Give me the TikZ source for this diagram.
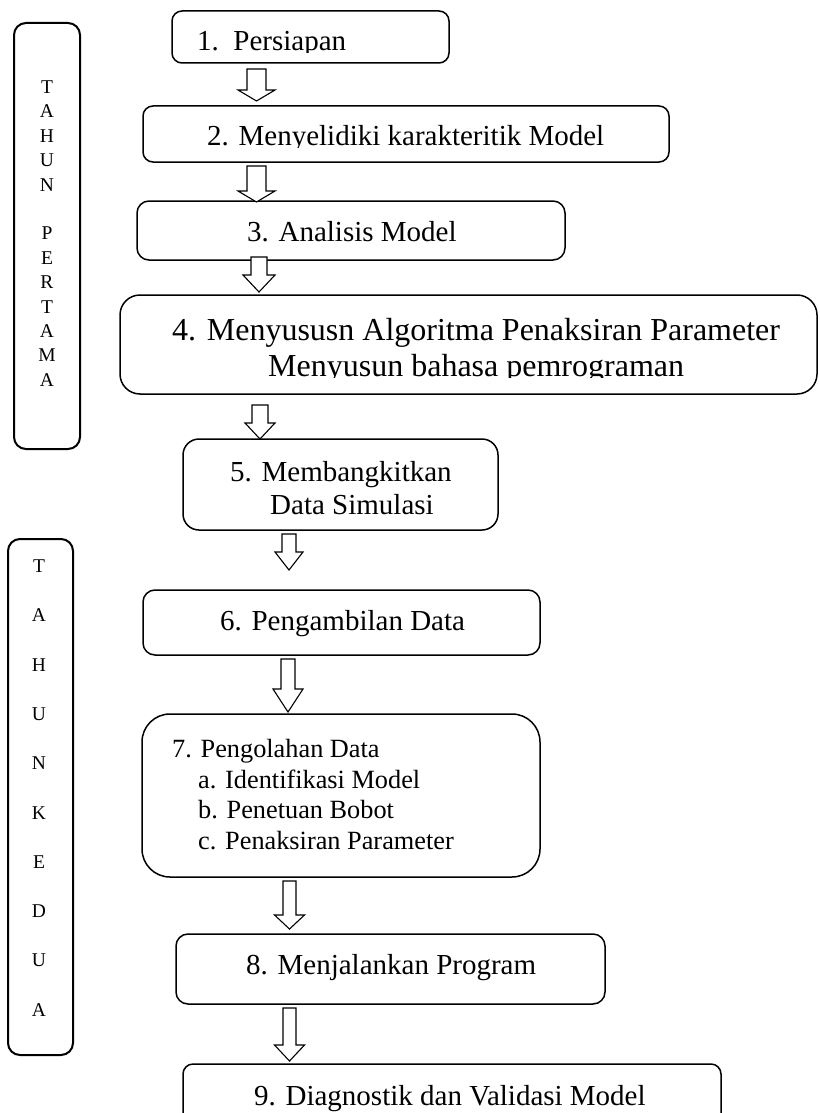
\documentclass[tikz,border=0pt]{standalone}
\usepackage{fontspec}
\setmainfont{Liberation Serif}
\newcommand\blockarrow[6]{%
  \draw[barrow] (#1-#4,#2) -- (#1+#4,#2) -- (#1+#4,#3-#6) -- (#1+#5,#3-#6)
    -- (#1,#3) -- (#1-#5,#3-#6) -- (#1-#4,#3-#6) -- cycle;}
\tikzset{
  box/.style={draw=black, line width=1.5pt, rectangle, inner sep=0pt, outer sep=0pt, fill=white},
  sidebox/.style={draw=black, line width=2pt, rectangle, inner sep=0pt, outer sep=0pt, rounded corners=12pt},
  txt/.style={inner sep=0pt, anchor=base west, font=\fontsize{29}{33}\selectfont},
  sidetxt/.style={inner sep=0pt, align=center},
  barrow/.style={draw=black, line width=1.1pt, fill=white, line join=miter}
}
\begin{document}
\begin{tikzpicture}[x=1pt,y=-1pt]
\clip (0,0) rectangle (819,1113);
\fill[white] (0,0) rectangle (819,1113);

% side boxes
\node[sidebox, minimum width=66pt, minimum height=426pt] (s1) at (47,236) {};
\node[sidetxt, font=\fontsize{19.5}{24.4}\selectfont] (l1) at (47,233.5)
  {T\\A\\H\\U\\N\\[24.4pt]P\\E\\R\\T\\A\\M\\A};
\node[sidebox, minimum width=65pt, minimum height=516pt] (s2) at (40.5,797) {};
\node[sidetxt, font=\fontsize{19.5}{49.3}\selectfont] (l2) at (39,788)
  {T\\A\\H\\U\\N\\K\\E\\D\\U\\A};

% boxes
\node[box, minimum width=277pt, minimum height=52pt, rounded corners=10pt] (b1) at (310.5,37) {};
\node[box, minimum width=526pt, minimum height=56pt, rounded corners=10pt] (b2) at (406,134) {};
\node[box, minimum width=428pt, minimum height=59pt, rounded corners=12pt] (b3) at (351,230.5) {};
\node[box, minimum width=697pt, minimum height=99pt, rounded corners=20pt] (b4) at (468.5,344.5) {};
\node[box, minimum width=315pt, minimum height=91pt, rounded corners=16pt] (b5) at (340.5,484.5) {};
\node[box, minimum width=397pt, minimum height=65pt, rounded corners=12pt] (b6) at (341.5,622.5) {};
\node[box, minimum width=398pt, minimum height=163pt, rounded corners=28pt] (b7) at (341,795.5) {};
\node[box, minimum width=429pt, minimum height=70pt, rounded corners=12pt] (b8) at (390.5,969) {};
\node[box, minimum width=538pt, minimum height=66pt, rounded corners=10pt] (b9) at (452,1097) {};

% texts
\begin{scope}
  \clip (150,0) rectangle (700,52.5);
  \node[txt] (t1) at (197,51) {1.\ \ Persiapan};
\end{scope}
\begin{scope}
  \clip (150,100) rectangle (700,147.5);
  \node[txt] (t2) at (207,146) {2. Menyelidiki karakteritik Model};
\end{scope}
\node[txt] (t3) at (247,241) {3. Analisis Model};
\begin{scope}
  \clip (120,300) rectangle (819,377);
  \node[txt, font=\fontsize{32}{36}\selectfont] (t4a) at (172,340) {4. Menyususn Algoritma Penaksiran Parameter};
  \node[txt, font=\fontsize{32}{36}\selectfont] (t4b) at (268,376) {Menyusun bahasa pemrograman};
\end{scope}
\node[txt] (t5a) at (230,481) {5. Membangkitkan};
\node[txt] (t5b) at (270,514) {Data Simulasi};
\node[txt] (t6) at (220,630) {6. Pengambilan Data};
\node[txt, font=\fontsize{26.3}{30}\selectfont] (t7) at (172,757) {7. Pengolahan Data};
\node[txt, font=\fontsize{26.3}{30}\selectfont] (t7a) at (198,788) {a. Identifikasi Model};
\node[txt, font=\fontsize{26.3}{30}\selectfont] (t7b) at (198,818) {b. Penetuan Bobot};
\node[txt, font=\fontsize{26.3}{30}\selectfont] (t7c) at (198,849) {c. Penaksiran Parameter};
\node[txt] (t8) at (246,974) {8. Menjalankan Program};
\node[txt] (t9) at (254,1105) {9. Diagnostik dan Validasi Model};

% block arrows
\blockarrow{256.5}{69}{101}{9.5}{18.5}{11}
\blockarrow{256.5}{166}{202}{9.5}{18.5}{11}
\blockarrow{259}{257}{292}{8}{16}{17}
\blockarrow{260}{405}{439}{8}{15}{16}
\blockarrow{289}{534}{570}{7}{14}{18}
\blockarrow{288}{659}{712}{7}{15}{23}
\blockarrow{289.5}{881}{929}{6.5}{15}{14}
\blockarrow{289.5}{1008}{1061}{6.5}{15}{16}
\end{tikzpicture}
\end{document}
